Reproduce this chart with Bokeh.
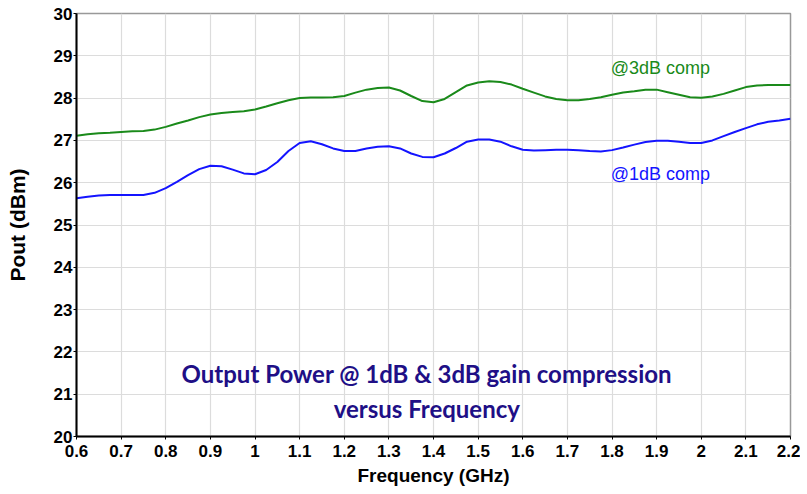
from bokeh.plotting import figure
from bokeh.models import FixedTicker, Range1d, Label
from bokeh.embed import file_html
from bokeh.resources import INLINE

freq = [0.6, 0.625, 0.65, 0.675, 0.7, 0.725, 0.75, 0.775, 0.8, 0.825, 0.85, 0.875,
        0.9, 0.925, 0.95, 0.975, 1.0, 1.025, 1.05, 1.075, 1.1, 1.125, 1.15, 1.175,
        1.2, 1.225, 1.25, 1.275, 1.3, 1.325, 1.35, 1.375, 1.4, 1.425, 1.45, 1.475,
        1.5, 1.525, 1.55, 1.575, 1.6, 1.625, 1.65, 1.675, 1.7, 1.725, 1.75, 1.775,
        1.8, 1.825, 1.85, 1.875, 1.9, 1.925, 1.95, 1.975, 2.0, 2.025, 2.05, 2.075,
        2.1, 2.125, 2.15, 2.175, 2.2]
p3db = [27.11, 27.145, 27.17, 27.18, 27.20, 27.215, 27.22, 27.255, 27.32, 27.40, 27.47, 27.55,
        27.61, 27.65, 27.67, 27.69, 27.73, 27.80, 27.88, 27.95, 28.00, 28.015, 28.015, 28.02,
        28.05, 28.13, 28.20, 28.24, 28.25, 28.18, 28.05, 27.93, 27.90, 27.98, 28.14, 28.30,
        28.37, 28.40, 28.38, 28.32, 28.22, 28.13, 28.04, 27.98, 27.95, 27.95, 27.98, 28.02,
        28.08, 28.13, 28.16, 28.20, 28.20, 28.14, 28.08, 28.02, 28.01, 28.04, 28.10, 28.18,
        28.26, 28.30, 28.31, 28.31, 28.31]
p1db = [25.63, 25.67, 25.70, 25.71, 25.71, 25.71, 25.71, 25.76, 25.87, 26.02, 26.18, 26.32,
        26.40, 26.39, 26.31, 26.22, 26.20, 26.30, 26.49, 26.75, 26.94, 26.98, 26.91, 26.81,
        26.75, 26.75, 26.81, 26.85, 26.86, 26.81, 26.69, 26.61, 26.60, 26.69, 26.82, 26.97,
        27.02, 27.02, 26.97, 26.86, 26.78, 26.76, 26.77, 26.78, 26.78, 26.77, 26.75, 26.74,
        26.77, 26.83, 26.90, 26.96, 26.99, 26.99, 26.97, 26.94, 26.94, 27.00, 27.10, 27.20,
        27.29, 27.38, 27.44, 27.47, 27.51]
x_ticks = [0.6, 0.7, 0.8, 0.9, 1.0, 1.1, 1.2, 1.3, 1.4, 1.5, 1.6, 1.7, 1.8, 1.9, 2.0, 2.1, 2.2]
x_tick_labels = ["0.6", "0.7", "0.8", "0.9", "1", "1.1", "1.2", "1.3", "1.4", "1.5", "1.6", "1.7",
                 "1.8", "1.9", "2", "2.1", "2.2"]
y_ticks = [20, 21, 22, 23, 24, 25, 26, 27, 28, 29, 30]

p = figure(width=800, height=490, output_backend="svg", toolbar_location=None,
           x_range=Range1d(0.6, 2.2), y_range=Range1d(20, 30),
           min_border_left=76, min_border_right=10, min_border_top=13, min_border_bottom=54)
p.background_fill_color = "white"
p.border_fill_color = "white"
p.outline_line_color = "#999999"
p.outline_line_width = 1.5

p.xaxis.ticker = FixedTicker(ticks=x_ticks)
p.xaxis.major_label_overrides = {t: l for t, l in zip(x_ticks, x_tick_labels)}
p.yaxis.ticker = FixedTicker(ticks=y_ticks)

for ax in (p.xaxis[0], p.yaxis[0]):
    ax.axis_line_color = "black"
    ax.axis_line_width = 2
    ax.major_tick_in = 0
    ax.major_tick_out = 3
    ax.major_tick_line_color = "black"
    ax.minor_tick_line_color = None
    ax.major_label_text_font = "Liberation Sans"
    ax.major_label_text_font_style = "bold"
    ax.major_label_text_font_size = "17px"
    ax.major_label_text_color = "black"
    ax.axis_label_text_font = "Liberation Sans"
    ax.axis_label_text_font_style = "bold"
    ax.axis_label_text_color = "black"

p.xaxis.axis_label = "Frequency (GHz)"
p.yaxis.axis_label = "Pout (dBm)"
p.xaxis.axis_label_text_font_size = "19px"
p.yaxis.axis_label_text_font_size = "21px"
p.xaxis.major_label_standoff = 5
p.yaxis.major_label_standoff = 1
p.xaxis.axis_label_standoff = 5
p.yaxis.axis_label_standoff = 22

p.grid.grid_line_color = "#dcdcdc"
p.grid.grid_line_width = 1.2

p.line(freq, p3db, line_color="#1a8a1a", line_width=2)
p.line(freq, p1db, line_color="#1414ff", line_width=2)

p.add_layout(Label(x=1.797, y=28.72, text="@3dB comp", text_color="#1a8a1a",
                   text_font="Liberation Sans", text_font_size="18px",
                   text_baseline="middle", text_align="left"))
p.add_layout(Label(x=1.797, y=26.2, text="@1dB comp", text_color="#1414ff",
                   text_font="Liberation Sans", text_font_size="18px",
                   text_baseline="middle", text_align="left"))
p.add_layout(Label(x=1.385, y=21.49, text="Output Power @ 1dB & 3dB gain compression",
                   text_color="#200f86", text_font="Lato", text_font_style="bold",
                   text_font_size="24px", text_baseline="middle", text_align="center"))
p.add_layout(Label(x=1.385, y=20.66, text="versus Frequency",
                   text_color="#200f86", text_font="Lato", text_font_style="bold",
                   text_font_size="24px", text_baseline="middle", text_align="center"))

open("out.html", "w").write(file_html(p, INLINE))
